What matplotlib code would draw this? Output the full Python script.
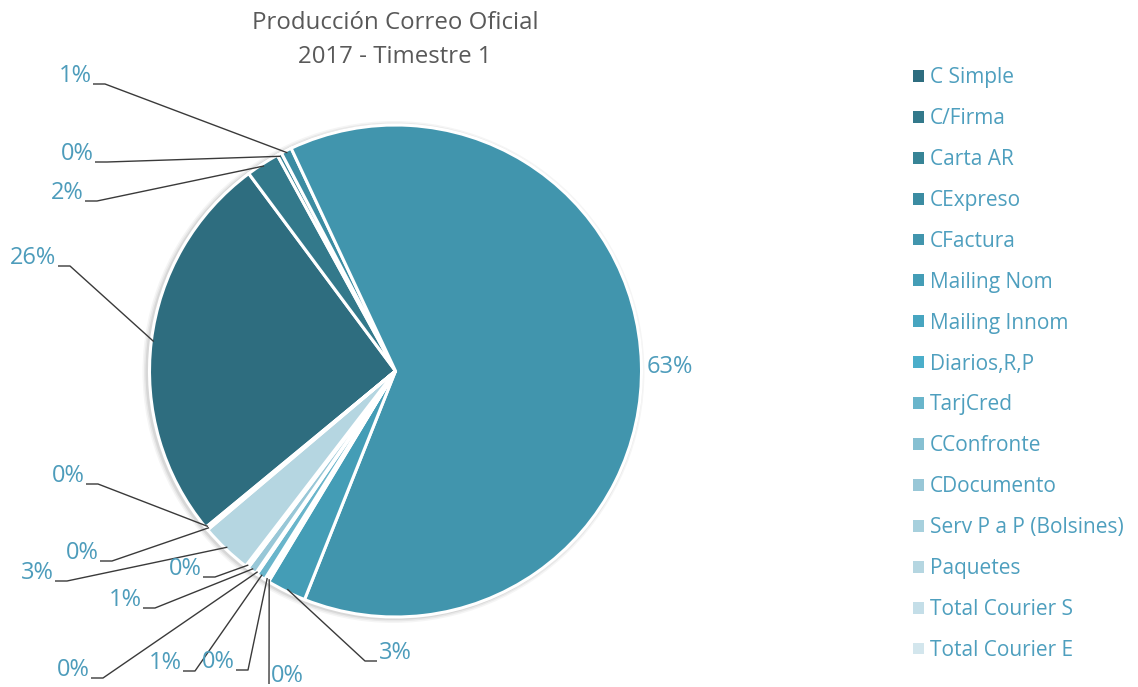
import matplotlib
matplotlib.use("Agg")
import matplotlib.pyplot as plt
from matplotlib.patches import Circle
import numpy as np

# ---------------- data ----------------
categories = ["C Simple", "C/Firma", "Carta AR", "CExpreso", "CFactura",
              "Mailing Nom", "Mailing Innom", "Diarios,R,P", "TarjCred",
              "CConfronte", "CDocumento", "Serv P a P (Bolsines)", "Paquetes",
              "Total Courier S", "Total Courier E"]
values = [25.8, 2.2, 0.3, 0.7, 63.0, 2.6, 0.1, 0.2, 0.6, 0.1, 0.6, 0.2, 3.4, 0.1, 0.1]
colors = ["#2E6D7F", "#33798B", "#378496", "#3B8CA2", "#4195AD",
          "#449DB6", "#47A5C0", "#4BAECA", "#69B5CB", "#86C0D2",
          "#98C7D7", "#A7D0DD", "#B5D6E1", "#C4DEE8", "#D3E6ED"]
title_lines = ["Producción Correo Oficial", "2017 - Timestre 1"]

# ---------------- layout ----------------
W, H = 1138, 687
FONT = "Open Sans"
LABEL_COLOR = "#4D9CBB"
CX, CY, R = 395.5, 371, 246          # pie centre / radius in image pixels
START_CW_FROM_TOP = 230.5            # Excel "first slice angle"

# label text centres (image pixels), leader side, hook length
label_pos = [(33, 258, "r", 12), (67, 193, "r", 12), (77, 154, "r", 12),
             (75, 76, "r", 12), (670, 367, None, 0), (395, 653, "l", 12),
             (287, 676, "l", 0), (218, 662, "r", 12), (165, 663, "r", 12),
             (73, 670, "r", 12), (125, 600, "r", 12), (185, 569, "r", 12),
             (37, 573, "r", 12), (82, 553, "r", 12), (68, 476, "r", 12)]


def P(x, y):
    return x, H - y


plt.rcParams["font.family"] = [FONT, "DejaVu Sans"]
fig = plt.figure(figsize=(W / 100, H / 100), dpi=100)
ax = fig.add_axes([0, 0, 1, 1])

center = P(CX, CY)

# soft shadow
for k, a in [(5, 0.04), (3.5, 0.05), (2, 0.07)]:
    ax.add_patch(Circle((center[0] - 2, center[1] - 1), R + k, color="#000000",
                        alpha=a, lw=0, zorder=0))

wedges, _ = ax.pie(values, colors=colors, startangle=90 - START_CW_FROM_TOP,
                   counterclock=False, center=center, radius=R,
                   wedgeprops=dict(edgecolor="white", linewidth=2.2))
for w in wedges:
    w.set_zorder(2)

total = sum(values)
for w, v, (lx, ly, side, hook) in zip(wedges, values, label_pos):
    txt = f"{v / total * 100:.0f}%"
    X, Y = P(lx, ly)
    ax.text(X, Y, txt, ha="center", va="center", fontsize=17,
            color=LABEL_COLOR, zorder=5)
    if side is None:
        continue
    mid = np.deg2rad((w.theta1 + w.theta2) / 2)
    ex = center[0] + R * 0.99 * np.cos(mid)
    ey = center[1] + R * 0.99 * np.sin(mid)
    half = 16 if len(txt) == 2 else 23
    by = Y - 8
    if side == "r":
        x0 = X + half + 2
        x1 = x0 + hook
    else:
        x0 = X - half - 2
        x1 = x0 - hook
    ax.plot([x0, x1, ex], [by, by, ey], color="#3a3a3a", lw=1.0, zorder=4,
            solid_capstyle="butt")

# title
ax.text(*P(395, 23), title_lines[0], ha="center", va="center", fontsize=17.3,
        color="#595959")
ax.text(*P(395, 57), title_lines[1], ha="center", va="center", fontsize=17.3,
        color="#595959")

ax.set_xlim(0, W)
ax.set_ylim(0, H)
ax.set_aspect("equal")
ax.axis("off")

leg = fig.legend(wedges, categories, loc="upper left",
                 bbox_to_anchor=(905 / W, 1 - 59 / H), frameon=False,
                 fontsize=15, handlelength=0.5, handleheight=0.5,
                 handletextpad=0.3, labelspacing=0.955, borderaxespad=0)
for t in leg.get_texts():
    t.set_color("#4E9FBE")
for h in leg.legend_handles:
    h.set_edgecolor("none")

fig.savefig("out.png", dpi=100, facecolor="white")
